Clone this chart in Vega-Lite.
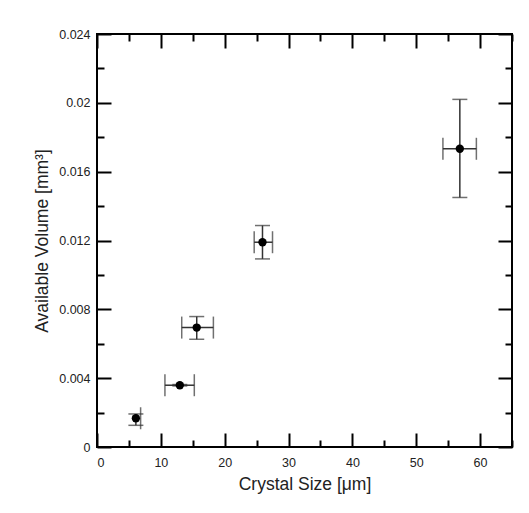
{
  "$schema": "https://vega.github.io/schema/vega-lite/v6.json",
  "width": 415,
  "height": 413,
  "autosize": {"type": "none"},
  "padding": {"left": 97, "top": 34, "right": 17, "bottom": 66},
  "background": "white",
  "config": {
    "view": {"stroke": "#000", "strokeWidth": 2},
    "axis": {
      "domain": false,
      "grid": false,
      "labelFont": "Liberation Sans",
      "titleFont": "Liberation Sans",
      "labelColor": "#222",
      "titleColor": "#222",
      "tickColor": "#000",
      "tickWidth": 2,
      "labelFontSize": 12.5,
      "titleFontSize": 17.5,
      "titleFontWeight": "normal"
    }
  },
  "data": {
    "values": [
      {"x": 6.09, "y": 0.00167, "xlo": null, "xhi": 6.83, "ylo": 0.00126, "yhi": 0.00192},
      {"x": 12.97, "y": 0.00359, "xlo": 10.64, "xhi": 15.24, "ylo": 0.00355, "yhi": 0.00363},
      {"x": 15.62, "y": 0.00694, "xlo": 13.27, "xhi": 18.23, "ylo": 0.00626, "yhi": 0.00758},
      {"x": 25.92, "y": 0.0119, "xlo": 24.62, "xhi": 27.49, "ylo": 0.01093, "yhi": 0.01287},
      {"x": 56.83, "y": 0.01733, "xlo": 54.18, "xhi": 59.42, "ylo": 0.0145, "yhi": 0.0202}
    ]
  },
  "layer": [
    {
      "mark": {"type": "rule", "color": "#333", "strokeWidth": 1.5},
      "encoding": {
        "x": {"field": "xlo", "type": "quantitative", "scale": {"domain": [0, 65], "nice": false},
          "axis": {"orient": "bottom", "title": "Crystal Size [μm]", "values": [0, 10, 20, 30, 40, 50, 60], "format": "d", "tickSize": -14, "labelPadding": 23, "titlePadding": 7}},
        "x2": {"field": "xhi"},
        "y": {"field": "y", "type": "quantitative", "scale": {"domain": [0, 0.024], "nice": false},
          "axis": {"orient": "left", "title": "Available Volume [mm³]", "values": [0, 0.004, 0.008, 0.012, 0.016, 0.02, 0.024], "format": "~g", "tickSize": -14, "labelPadding": 21, "titlePadding": 7}}
      }
    },
    {
      "mark": {"type": "rule", "color": "#333", "strokeWidth": 1.5},
      "encoding": {
        "x": {"field": "x", "type": "quantitative", "scale": {"domain": [0, 65], "nice": false},
          "axis": {"orient": "bottom", "title": null, "labels": false, "values": [5, 15, 25, 35, 45, 55, 65], "tickSize": -7}},
        "y": {"field": "ylo", "type": "quantitative", "scale": {"domain": [0, 0.024], "nice": false},
          "axis": {"orient": "left", "title": null, "labels": false, "values": [0.002, 0.006, 0.01, 0.014, 0.018, 0.022], "tickSize": -7}},
        "y2": {"field": "yhi"}
      }
    },
    {
      "transform": [
        {"fold": ["xlo", "xhi"], "as": ["side", "xv"]},
        {"filter": {"field": "xv", "valid": true}}
      ],
      "mark": {"type": "tick", "orient": "vertical", "color": "#333", "thickness": 1.5, "size": 22},
      "encoding": {
        "x": {"field": "xv", "type": "quantitative", "scale": {"domain": [0, 65], "nice": false},
          "axis": {"orient": "top", "title": null, "labels": false, "values": [0, 10, 20, 30, 40, 50, 60], "tickSize": -14}},
        "y": {"field": "y", "type": "quantitative", "scale": {"domain": [0, 0.024], "nice": false},
          "axis": {"orient": "right", "title": null, "labels": false, "values": [0, 0.004, 0.008, 0.012, 0.016, 0.02, 0.024], "tickSize": -14}}
      }
    },
    {
      "transform": [
        {"fold": ["ylo", "yhi"], "as": ["side", "yv"]}
      ],
      "mark": {"type": "tick", "orient": "horizontal", "color": "#333", "thickness": 1.5, "size": 15},
      "encoding": {
        "x": {"field": "x", "type": "quantitative", "scale": {"domain": [0, 65], "nice": false},
          "axis": {"orient": "top", "title": null, "labels": false, "values": [5, 15, 25, 35, 45, 55, 65], "tickSize": -7}},
        "y": {"field": "yv", "type": "quantitative", "scale": {"domain": [0, 0.024], "nice": false},
          "axis": {"orient": "right", "title": null, "labels": false, "values": [0.002, 0.006, 0.01, 0.014, 0.018, 0.022], "tickSize": -7}}
      }
    },
    {
      "mark": {"type": "point", "filled": true, "shape": "circle", "color": "#000", "size": 70, "opacity": 1},
      "encoding": {
        "x": {"field": "x", "type": "quantitative", "scale": {"domain": [0, 65], "nice": false}, "axis": null},
        "y": {"field": "y", "type": "quantitative", "scale": {"domain": [0, 0.024], "nice": false}, "axis": null}
      }
    }
  ],
  "resolve": {"axis": {"x": "independent", "y": "independent"}}
}
